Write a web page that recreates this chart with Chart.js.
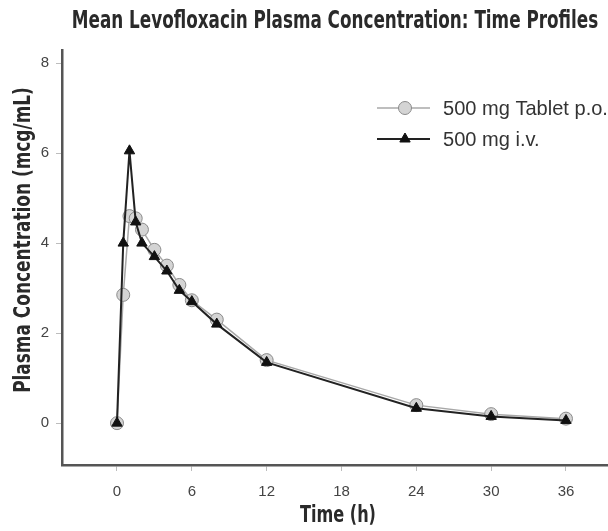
<!DOCTYPE html>
<html><head><meta charset="utf-8">
<script src="https://cdn.jsdelivr.net/npm/chart.js@4"></script>
<style>html,body{margin:0;padding:0;background:#fff}</style>
</head><body>
<canvas id="c" width="608" height="531" style="display:block;width:608px;height:531px"></canvas>
<script>
const chartTitle = 'Mean Levofloxacin Plasma Concentration: Time Profiles';
const xAxisTitle = 'Time (h)';
const yAxisTitle = 'Plasma Concentration (mcg/mL)';
const seriesNames = ['500 mg Tablet p.o.', '500 mg i.v.'];
const timeHours = [0, 0.5, 1, 1.5, 2, 3, 4, 5, 6, 8, 12, 24, 30, 36];
const tabletPO  = [0, 2.85, 4.6, 4.55, 4.3, 3.85, 3.5, 3.07, 2.73, 2.3, 1.4, 0.4, 0.2, 0.1];
const ivValues  = [0, 4.0, 6.05, 4.47, 4.0, 3.7, 3.38, 2.95, 2.7, 2.2, 1.35, 0.33, 0.15, 0.06];
const xTicks = [0, 6, 12, 18, 24, 30, 36];
const yTicks = [0, 2, 4, 6, 8];

const condensed = "'Liberation Sans Narrow','DejaVu Sans Condensed','Arial Narrow',sans-serif";
const regular = "'Liberation Sans',Arial,sans-serif";

function fitFont(ctx, text, weight, family, target) {
  ctx.font = weight + ' 20px ' + family;
  const w = ctx.measureText(text).width;
  return 20 * target / w;
}
function drawStretched(ctx, text, x, y, width, sy, rot) {
  const fs = fitFont(ctx, text, 'bold', condensed, width);
  ctx.save();
  ctx.font = 'bold ' + fs + 'px ' + condensed;
  ctx.textAlign = 'center'; ctx.textBaseline = 'middle';
  ctx.translate(x, y);
  if (rot) ctx.rotate(rot);
  ctx.scale(1, sy);
  ctx.fillText(text, 0, 0);
  ctx.restore();
}

const tabletStyle = {line:'#a8a8a8', lw:1.5, fill:'#d4d4d4', border:'#8a8a8a', style:'circle', r:6.5};
const ivStyle = {line:'#222222', lw:2, fill:'#111111', border:'#111111', style:'triangle', r:6};

const overlay = {
  id: 'overlay',
  afterDraw(chart) {
    const ctx = chart.ctx;
    ctx.save();
    ctx.fillStyle = '#2a2a2a';
    drawStretched(ctx, chartTitle, 335, 22, 527, 1.3, 0);
    drawStretched(ctx, xAxisTitle, 338, 516, 76, 1.25, 0);
    drawStretched(ctx, yAxisTitle, 24, 240, 306, 1.2, -Math.PI / 2);
    // legend
    const rows = [[seriesNames[0], tabletStyle, 108], [seriesNames[1], ivStyle, 139]];
    const fs = fitFont(ctx, seriesNames[0], 'normal', regular, 165);
    rows.forEach(([name, st, y]) => {
      ctx.strokeStyle = st.line; ctx.lineWidth = st.lw;
      ctx.beginPath(); ctx.moveTo(377, y); ctx.lineTo(430, y); ctx.stroke();
      ctx.fillStyle = st.fill; ctx.strokeStyle = st.border; ctx.lineWidth = 1;
      Chart.helpers.drawPoint(ctx, {pointStyle: st.style, radius: st.r, rotation: 0, borderWidth: 1}, 405, y);
      ctx.fillStyle = '#333';
      ctx.font = 'normal ' + fs + 'px ' + regular;
      ctx.textAlign = 'left'; ctx.textBaseline = 'middle';
      ctx.fillText(name, 443, y + 1);
    });
    ctx.restore();
  }
};

const mk = (arr) => timeHours.map((t, i) => ({x: t, y: arr[i]}));

new Chart(document.getElementById('c'), {
  type: 'line',
  data: {
    datasets: [
      {label: seriesNames[1], data: mk(ivValues), order: 0,
       borderColor: ivStyle.line, borderWidth: ivStyle.lw, backgroundColor: ivStyle.fill,
       pointStyle: 'triangle', pointRadius: ivStyle.r, pointBackgroundColor: ivStyle.fill,
       pointBorderColor: ivStyle.border, pointBorderWidth: 1, tension: 0},
      {label: seriesNames[0], data: mk(tabletPO), order: 1,
       borderColor: tabletStyle.line, borderWidth: tabletStyle.lw, backgroundColor: tabletStyle.fill,
       pointStyle: 'circle', pointRadius: tabletStyle.r, pointBackgroundColor: tabletStyle.fill,
       pointBorderColor: tabletStyle.border, pointBorderWidth: 1, tension: 0}
    ]
  },
  options: {
    responsive: false, animation: false, devicePixelRatio: 1,
    layout: {autoPadding: false, padding: {top: 50, left: 0, right: 0, bottom: 0}},
    plugins: {legend: {display: false}, tooltip: {enabled: false}, title: {display: false}},
    scales: {
      x: {
        type: 'linear', min: -4.41, max: 39.37,
        afterBuildTicks: s => { s.ticks = xTicks.map(v => ({value: v})); },
        afterFit: s => { s.height = 66; s.paddingLeft = 0; s.paddingRight = 0; },
        grid: {drawOnChartArea: false, drawTicks: true, tickLength: 6, color: '#bdbdbd', lineWidth: 1},
        border: {color: '#555', width: 2.5},
        ticks: {font: {family: regular, size: 15}, color: '#444', padding: 12, maxRotation: 0}
      },
      y: {
        type: 'linear', min: -0.93, max: 8.29,
        afterBuildTicks: s => { s.ticks = yTicks.map(v => ({value: v})); },
        afterFit: s => { s.width = 62; s.paddingTop = 0; s.paddingBottom = 0; },
        grid: {drawOnChartArea: false, drawTicks: true, tickLength: 6, color: '#bdbdbd', lineWidth: 1},
        border: {color: '#555', width: 2.5},
        ticks: {font: {family: regular, size: 15}, color: '#444', padding: 7}
      }
    }
  },
  plugins: [overlay]
});
</script>
</body></html>
